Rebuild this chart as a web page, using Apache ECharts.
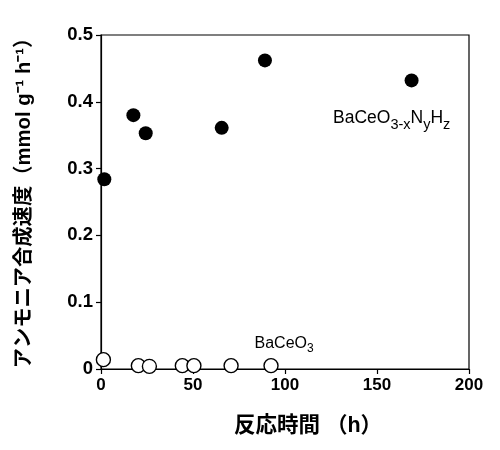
<!DOCTYPE html>
<html><head><meta charset="utf-8">
<script src="https://cdn.jsdelivr.net/npm/echarts@6/dist/echarts.min.js"></script>
<style>html,body{margin:0;padding:0;background:#fff}#c{width:500px;height:450px}</style>
</head><body><div id="c"></div>
<script>
const xTicks = [0, 50, 100, 150, 200];
const yTicks = [0, 0.1, 0.2, 0.3, 0.4, 0.5];
const nitrideTime = [1.8, 17.6, 24.3, 65.6, 89.1, 168.8];
const nitrideRate = [0.284, 0.380, 0.353, 0.361, 0.462, 0.432];
const oxideTime = [1.3, 20.3, 26.3, 44.2, 50.5, 70.7, 92.4];
const oxideRate = [0.014, 0.005, 0.004, 0.005, 0.005, 0.005, 0.005];

const FONT = '"Liberation Sans", "Noto Sans CJK JP", sans-serif';
const chart = echarts.init(document.getElementById('c'));
const axisCommon = {
  axisLine: {show: true, lineStyle: {color: '#000', width: 1.2}},
  axisTick: {show: true, inside: false, length: 5, lineStyle: {color: '#000', width: 1.2}},
  splitLine: {show: false},
  axisLabel: {color: '#000', fontFamily: FONT, fontWeight: 'bold', fontSize: 17}
};
function rich(main, sub, subLine) {
  return {
    n: {fontFamily: FONT, fontSize: main, fill: '#000', lineHeight: main, verticalAlign: 'top'},
    s: {fontFamily: FONT, fontSize: sub, fill: '#000', lineHeight: subLine, verticalAlign: 'bottom'}
  };
}
chart.setOption({
  animation: false,
  grid: {left: 101, right: 31, top: 35, bottom: 81, show: true, borderColor: '#000', borderWidth: 1.2},
  xAxis: Object.assign({}, axisCommon, {
    type: 'value', min: xTicks[0], max: xTicks[xTicks.length - 1], interval: 50,
    name: '反応時間 （h）', nameLocation: 'middle', nameGap: 46,
    nameTextStyle: {color: '#000', fontFamily: FONT, fontWeight: 'bold', fontSize: 21.5, padding: [0, 0, 0, 46]},
    axisLabel: Object.assign({}, axisCommon.axisLabel, {margin: 8})
  }),
  yAxis: Object.assign({}, axisCommon, {
    type: 'value', min: yTicks[0], max: yTicks[yTicks.length - 1], interval: 0.1,
    name: 'アンモニア合成速度（mmol g⁻¹ h⁻¹）', nameLocation: 'middle', nameGap: 66,
    nameTextStyle: {color: '#000', fontFamily: FONT, fontWeight: 'bold', fontSize: 20.3, padding: [0, 0, 0, 8]},
    axisLabel: Object.assign({}, axisCommon.axisLabel, {margin: 8, fontSize: 18.5, formatter: v => v === 0 ? '0' : v.toFixed(1)})
  }),
  series: [
    {
      type: 'scatter', symbol: 'circle', symbolSize: 14,
      itemStyle: {color: '#000', opacity: 1},
      data: nitrideTime.map((t, i) => [t, nitrideRate[i]])
    },
    {
      type: 'scatter', symbol: 'circle', symbolSize: 14,
      itemStyle: {color: '#fff', borderColor: '#000', borderWidth: 1.4, opacity: 1},
      data: oxideTime.map((t, i) => [t, oxideRate[i]])
    }
  ],
  graphic: [
    {
      type: 'text', left: 333, top: 109.5,
      style: {text: '{n|BaCeO}{s|3-x}{n|N}{s|y}{n|H}{s|z}', rich: rich(17.5, 14.5, 23)}
    },
    {
      type: 'text', left: 254.5, top: 336,
      style: {text: '{n|BaCeO}{s|3}', rich: rich(16, 12, 19)}
    }
  ]
});
</script></body></html>
